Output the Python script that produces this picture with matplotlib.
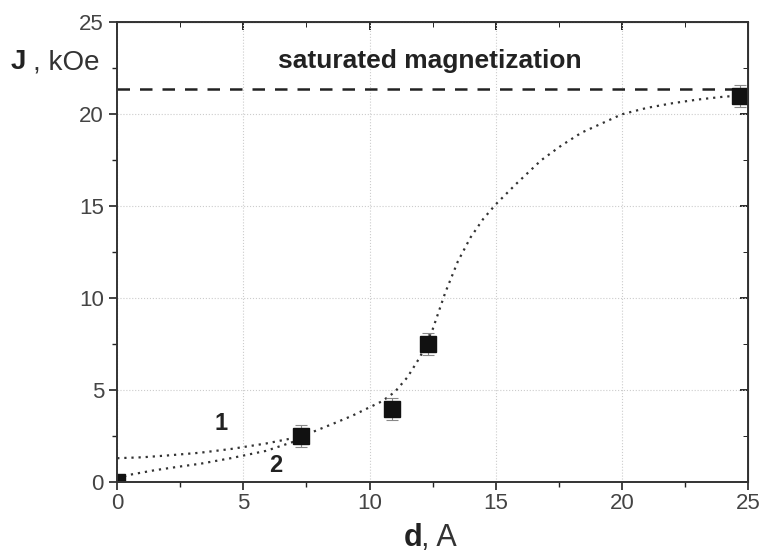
import numpy as np
import matplotlib.pyplot as plt

plt.rcParams['font.family'] = ['Liberation Sans', 'DejaVu Sans']

# measured points
d_pts = [0.0, 7.3, 10.9, 12.3, 24.7]
j_pts = [0.0, 2.5, 4.0, 7.5, 21.0]
j_err = [0.0, 0.6, 0.6, 0.6, 0.6]

# curve 1 (dotted)
c1_d = [0.0, 1.0, 2.0, 3.3, 4.5, 5.9, 7.0, 7.7, 8.6, 9.3, 9.9, 10.5, 11.0, 11.5, 12.0,
        12.5, 13.0, 13.5, 14.0, 14.5, 15.0, 15.8, 16.8, 17.6, 18.4, 19.2, 20.0, 21.0,
        22.0, 23.0, 24.0, 24.5]
c1_j = [1.3, 1.35, 1.45, 1.6, 1.8, 2.1, 2.4, 2.7, 3.2, 3.6, 4.0, 4.4, 4.9, 5.7, 6.8,
        8.3, 10.3, 12.0, 13.3, 14.3, 15.1, 16.2, 17.5, 18.3, 19.0, 19.5, 20.0, 20.35,
        20.6, 20.8, 20.95, 21.0]

# curve 2 (low-d branch)
c2_d = [0.0, 0.5, 1.5, 2.5, 3.3, 4.5, 5.9, 7.0]
c2_j = [0.2, 0.4, 0.65, 0.85, 1.0, 1.3, 1.7, 2.2]

j_sat = 21.4

fig, ax = plt.subplots(figsize=(7.61, 5.58), dpi=100)
fig.subplots_adjust(left=0.154, right=0.983, bottom=0.136, top=0.96)

ax.plot(c1_d, c1_j, linestyle=(0, (1, 2.2)), color='#333333', linewidth=1.6)
ax.plot(c2_d, c2_j, linestyle=(0, (1, 2.2)), color='#333333', linewidth=1.6)
ax.axhline(j_sat, color='#222222', linestyle=(0, (5, 4)), linewidth=1.8)
ax.errorbar(d_pts, j_pts, yerr=j_err, fmt='s', color='#111111', markersize=11,
            ecolor='#888888', elinewidth=0.8, capsize=4, capthick=0.8)

ax.text(12.4, 22.9, 'saturated magnetization', fontsize=19, fontweight='bold',
        ha='center', va='center', color='#222222')
ax.text(4.1, 3.2, '1', fontsize=17, fontweight='bold', ha='center', va='center', color='#222222')
ax.text(6.3, 0.9, '2', fontsize=17, fontweight='bold', ha='center', va='center', color='#222222')

ax.set_xlim(0, 25)
ax.set_ylim(0, 25)
ax.set_xticks(np.arange(0, 26, 5))
ax.set_yticks(np.arange(0, 26, 5))
ax.set_xticks(np.arange(2.5, 25, 5), minor=True)
ax.set_yticks(np.arange(2.5, 25, 5), minor=True)
ax.grid(True, which='major', linestyle=':', color='#cccccc', linewidth=0.8)
ax.tick_params(axis='both', which='major', labelsize=16, length=6, width=1.2,
               colors='#222222', labelcolor='#444444')
ax.tick_params(axis='x', which='major', pad=2)
ax.tick_params(axis='both', which='minor', length=3.5, width=1.0, colors='#222222')
for s in ax.spines.values():
    s.set_linewidth(1.4)
    s.set_color('#333333')

# inward ticks on the top and right sides
sec_x = ax.secondary_xaxis('top')
sec_x.set_xticks(np.arange(0, 26, 5))
sec_x.set_xticks(np.arange(2.5, 25, 5), minor=True)
sec_x.tick_params(direction='in', labeltop=False, length=6, width=1.2)
sec_x.tick_params(which='minor', direction='in', length=3.5)
sec_y = ax.secondary_yaxis('right')
sec_y.set_yticks(np.arange(0, 26, 5))
sec_y.set_yticks(np.arange(2.5, 25, 5), minor=True)
sec_y.tick_params(direction='in', labelright=False, length=6, width=1.2)
sec_y.tick_params(which='minor', direction='in', length=3.5)

fig.text(0.014, 0.888, 'J', fontsize=20, fontweight='bold', va='center', ha='left', color='#222222')
fig.text(0.043, 0.888, ', kOe', fontsize=20, va='center', ha='left', color='#333333')
fig.text(0.530, 0.022, 'd', fontsize=22, fontweight='bold', va='baseline', ha='left', color='#222222')
fig.text(0.553, 0.022, ', A', fontsize=22, va='baseline', ha='left', color='#333333')

fig.savefig('out.png', dpi=100)
